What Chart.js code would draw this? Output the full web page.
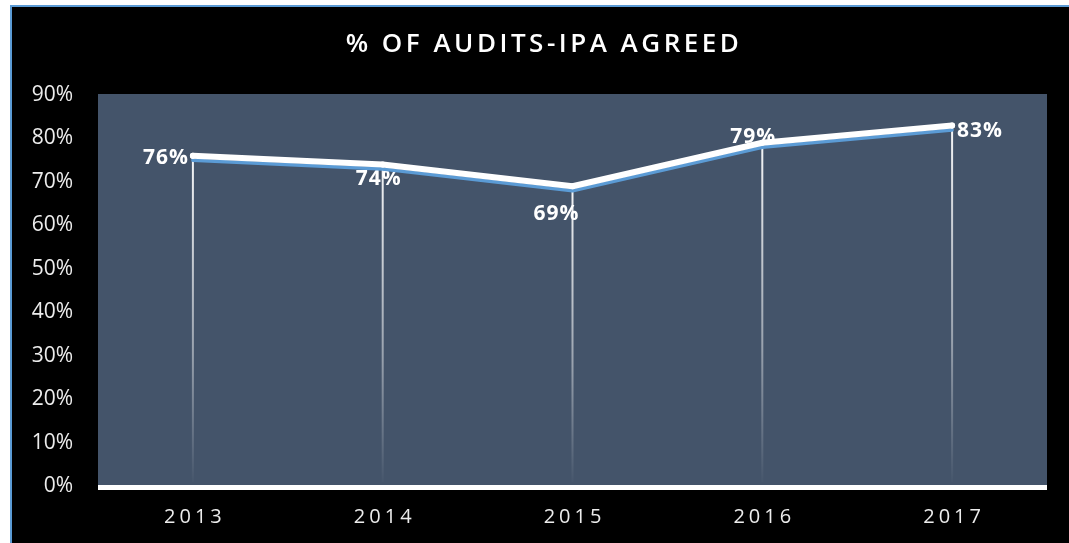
<!DOCTYPE html>
<html><head><meta charset="utf-8">
<script src="https://cdn.jsdelivr.net/npm/chart.js@4/dist/chart.umd.min.js"></script>
<style>html,body{margin:0;padding:0;background:#fff;overflow:hidden}
#wrap{position:absolute;left:0;top:0;width:1069px;height:543px}</style>
</head><body><div id="wrap"><canvas id="c" width="1069" height="543"></canvas></div>
<script>
const titleText = '% OF AUDITS-IPA AGREED';
const categories = ['2013', '2014', '2015', '2016', '2017'];
const agreedPct = [0.76, 0.74, 0.69, 0.79, 0.83];
const yTickLabels = ['0%', '10%', '20%', '30%', '40%', '50%', '60%', '70%', '80%', '90%'];

const FONT = '"Open Sans", "DejaVu Sans", sans-serif';

const frame = {
  id: 'frame',
  beforeDraw(chart) {
    const ctx = chart.ctx, W = chart.width, H = chart.height, a = chart.chartArea;
    ctx.save();
    ctx.fillStyle = '#ffffff'; ctx.fillRect(0, 0, W, H);
    ctx.fillStyle = '#5b9bd5';
    ctx.fillRect(10, 5, W - 10, 2);
    ctx.fillRect(10, 5, 2, H - 5);
    ctx.fillStyle = '#000000'; ctx.fillRect(12, 7, W - 12, H - 7);
    // plot area
    ctx.fillStyle = '#44546a';
    ctx.fillRect(a.left, a.top - 1, a.right - a.left, a.bottom - a.top + 1);
    // title
    ctx.fillStyle = '#ffffff';
    ctx.font = '600 26px ' + FONT;
    ctx.letterSpacing = '3.5px';
    ctx.textAlign = 'center'; ctx.textBaseline = 'middle';
    ctx.fillText(titleText, 544, 45);
    ctx.restore();
  },
  beforeDatasetsDraw(chart, args, opts) {
    const ctx = chart.ctx, a = chart.chartArea;
    const meta = chart.getDatasetMeta(0);
    const ys = chart.scales.y;
    // data labels
    ctx.save();
    ctx.fillStyle = '#ffffff';
    ctx.font = 'bold 21px ' + FONT;
    ctx.letterSpacing = '1px';
    ctx.textBaseline = 'middle';
    meta.data.forEach((pt, i) => {
      const p = opts.place[i];
      ctx.textAlign = p.align;
      const txt = Math.round(chart.data.datasets[0].data[i] * 100) + '%';
      ctx.fillText(txt, pt.x + p.dx, pt.y + p.dy);
    });
    ctx.restore();
    // drop lines
    ctx.save();
    meta.data.forEach(pt => {
      const base = ys.getPixelForValue(0);
      const g = ctx.createLinearGradient(0, pt.y, 0, base);
      g.addColorStop(0, 'rgba(255,255,255,0.95)');
      g.addColorStop(0.6, 'rgba(255,255,255,0.45)');
      g.addColorStop(1, 'rgba(255,255,255,0)');
      ctx.strokeStyle = g; ctx.lineWidth = 2;
      ctx.beginPath(); ctx.moveTo(pt.x, pt.y); ctx.lineTo(pt.x, base - 4); ctx.stroke();
    });
    ctx.restore();
    // baseline
    ctx.save();
    ctx.fillStyle = '#ffffff';
    ctx.fillRect(a.left, a.bottom - 1, a.right - a.left, 5);
    ctx.restore();
  },
  beforeDatasetDraw(chart, args) {
    if (args.index === 1) { chart.ctx.save(); chart.ctx.translate(0, 4.5); }
  },
  afterDatasetDraw(chart, args) {
    if (args.index === 1) chart.ctx.restore();
  },
  afterDraw(chart) {
    const ctx = chart.ctx, xs = chart.scales.x;
    ctx.save();
    ctx.fillStyle = '#ececec';
    ctx.font = '20px ' + FONT;
    ctx.letterSpacing = '4px';
    ctx.textAlign = 'center'; ctx.textBaseline = 'middle';
    categories.forEach((c, i) => ctx.fillText(c, xs.getPixelForValue(i) + 2, 517));
    ctx.restore();
  }
};

new Chart(document.getElementById('c'), {
  type: 'line',
  data: {
    labels: categories,
    datasets: [
      { label: 'glow', data: agreedPct, borderColor: '#ffffff', borderWidth: 6,
        pointRadius: 3, pointBackgroundColor: '#ffffff', pointBorderWidth: 0,
        tension: 0, borderCapStyle: 'round', borderJoinStyle: 'round' },
      { label: '% of audits-IPA agreed', data: agreedPct, borderColor: '#5b9bd5', borderWidth: 3.5,
        pointRadius: 0, tension: 0, borderCapStyle: 'round', borderJoinStyle: 'round' }
    ]
  },
  options: {
    responsive: false, maintainAspectRatio: false, animation: false, devicePixelRatio: 1,
    layout: { padding: { left: 0, top: 95, right: 22, bottom: 0 } },
    plugins: {
      legend: { display: false }, tooltip: { enabled: false }, title: { display: false },
      frame: { place: [
        { align: 'right', dx: -4, dy: 2 },
        { align: 'center', dx: -4, dy: 15 },
        { align: 'center', dx: -16, dy: 28 },
        { align: 'center', dx: -9, dy: -6 },
        { align: 'left', dx: 5, dy: 6 }
      ] }
    },
    scales: {
      x: { type: 'category', offset: true, grid: { display: false }, border: { display: false },
           ticks: { display: false }, afterFit: s => { s.height = 57; } },
      y: { min: 0, max: 0.9, grid: { display: false }, border: { display: false },
           ticks: { stepSize: 0.1, color: '#ececec', padding: 17,
                    font: { family: FONT, size: 21 },
                    callback: (v, i) => yTickLabels[Math.round(v * 10)] },
           afterFit: s => { s.width = 98; } }
    }
  },
  plugins: [frame]
});
</script></body></html>
